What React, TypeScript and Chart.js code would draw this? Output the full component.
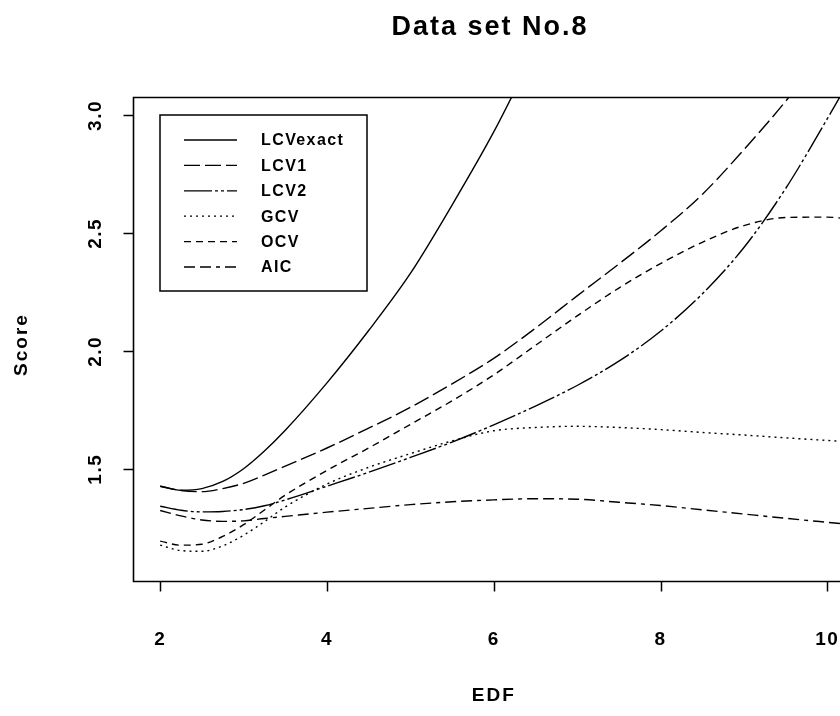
import React, { useEffect, useRef } from "react";
import { Chart, registerables } from "chart.js";

Chart.register(...registerables);

const chartTitle = "Data set No.8";
const xTitle = "EDF";
const yTitle = "Score";

const edf = [2.0, 2.25, 2.5, 2.75, 3.0, 3.25, 3.5, 4.0, 4.5, 5.0, 5.5, 6.0, 6.5, 7.0, 7.5, 8.0, 8.5, 9.0, 9.5, 10.0, 10.3];

const lcvExact = [1.428, 1.411, 1.418, 1.448, 1.502, 1.577, 1.665, 1.866, 2.088, 2.33, 2.62, 2.93, 3.28, null, null, null, null, null, null, null, null];
const lcv1 = [1.428, 1.41, 1.405, 1.418, 1.44, 1.475, 1.513, 1.59, 1.674, 1.762, 1.862, 1.97, 2.098, 2.235, 2.37, 2.51, 2.665, 2.855, 3.06, 3.29, 3.45];
const lcv2 = [1.343, 1.326, 1.319, 1.321, 1.329, 1.345, 1.37, 1.428, 1.487, 1.55, 1.615, 1.688, 1.768, 1.855, 1.958, 2.085, 2.243, 2.44, 2.69, 2.986, 3.17];
const gcv = [1.178, 1.155, 1.152, 1.175, 1.22, 1.278, 1.34, 1.437, 1.508, 1.566, 1.62, 1.663, 1.677, 1.682, 1.677, 1.668, 1.656, 1.645, 1.633, 1.622, 1.616];
const ocv = [1.195, 1.178, 1.182, 1.215, 1.265, 1.327, 1.39, 1.495, 1.59, 1.69, 1.79, 1.9, 2.025, 2.15, 2.268, 2.372, 2.462, 2.533, 2.567, 2.569, 2.558];
const aic = [1.325, 1.302, 1.285, 1.279, 1.281, 1.291, 1.3, 1.318, 1.334, 1.35, 1.362, 1.37, 1.375, 1.373, 1.36, 1.346, 1.328, 1.31, 1.292, 1.275, 1.265];

const seriesNames = ["LCVexact", "LCV1", "LCV2", "GCV", "OCV", "AIC"];
const seriesValues = [lcvExact, lcv1, lcv2, gcv, ocv, aic];
const seriesDashes: number[][] = [[], [16, 5], [28, 3, 3, 3, 3, 3], [2, 4], [7, 5], [11, 5, 11, 5, 4, 5]];

const xTicks = [2, 4, 6, 8, 10];
const xTickLabels = ["2", "4", "6", "8", "10"];
const yTicks = [1.5, 2.0, 2.5, 3.0];
const yTickLabels = ["1.5", "2.0", "2.5", "3.0"];

const FONT = "'Liberation Sans', Arial, Helvetica, sans-serif";

const decorPlugin = {
  id: "decor",
  afterDatasetsDraw(chart: any) {
    const ctx = chart.ctx as CanvasRenderingContext2D;
    const { left, right, top, bottom } = chart.chartArea;
    const xs = chart.scales.x;
    const ys = chart.scales.y;
    ctx.save();
    ctx.strokeStyle = "#000";
    ctx.fillStyle = "#000";
    ctx.lineWidth = 1.6;
    ctx.setLineDash([]);
    // plot box
    ctx.beginPath();
    ctx.moveTo(right, top);
    ctx.lineTo(left, top);
    ctx.lineTo(left, bottom);
    ctx.lineTo(right, bottom);
    ctx.lineTo(right, top);
    ctx.stroke();
    // x ticks
    ctx.lineWidth = 1.5;
    xTicks.forEach((v) => {
      const px = Math.round(xs.getPixelForValue(v)) + 0.5;
      ctx.beginPath();
      ctx.moveTo(px, bottom);
      ctx.lineTo(px, bottom + 10);
      ctx.stroke();
    });
    yTicks.forEach((v) => {
      const py = Math.round(ys.getPixelForValue(v)) + 0.5;
      ctx.beginPath();
      ctx.moveTo(left, py);
      ctx.lineTo(left - 10, py);
      ctx.stroke();
    });
    // tick labels
    (ctx as any).letterSpacing = "1.5px";
    ctx.font = `bold 19px ${FONT}`;
    ctx.textAlign = "center";
    ctx.textBaseline = "middle";
    xTicks.forEach((v, i) => {
      ctx.fillText(xTickLabels[i], xs.getPixelForValue(v), 640);
    });
    yTicks.forEach((v, i) => {
      ctx.save();
      ctx.translate(96, ys.getPixelForValue(v));
      ctx.rotate(-Math.PI / 2);
      ctx.fillText(yTickLabels[i], 0, 0);
      ctx.restore();
    });
    // axis titles
    (ctx as any).letterSpacing = "2px";
    ctx.font = `bold 19px ${FONT}`;
    ctx.fillText(xTitle, (left + right) / 2, 696);
    ctx.save();
    ctx.translate(22, (top + bottom) / 2 + 5);
    ctx.rotate(-Math.PI / 2);
    ctx.fillText(yTitle, 0, 0);
    ctx.restore();
    // main title
    (ctx as any).letterSpacing = "2px";
    ctx.font = `bold 27px ${FONT}`;
    ctx.fillText(chartTitle, 490, 28);

    // legend
    (ctx as any).letterSpacing = "0px";
    const lx0 = 160, ly0 = 115, lx1 = 367, ly1 = 291;
    ctx.lineWidth = 1.5;
    ctx.fillStyle = "#fff";
    ctx.fillRect(lx0, ly0, lx1 - lx0, ly1 - ly0);
    ctx.strokeRect(lx0, ly0, lx1 - lx0, ly1 - ly0);
    ctx.fillStyle = "#000";
    ctx.textAlign = "left";
    ctx.font = `bold 16px ${FONT}`;
    (ctx as any).letterSpacing = "1.4px";
    seriesNames.forEach((name, i) => {
      const y = 140 + i * 25.4;
      ctx.lineWidth = 1.3;
      ctx.setLineDash(seriesDashes[i]);
      ctx.beginPath();
      ctx.moveTo(184, y);
      ctx.lineTo(237, y);
      ctx.stroke();
      ctx.setLineDash([]);
      ctx.fillText(name, 261, y + 1);
    });
    ctx.restore();
  },
};

export default function App() {
  const ref = useRef<HTMLCanvasElement | null>(null);
  useEffect(() => {
    if (!ref.current) return;
    const datasets = seriesNames.map((name, i) => ({
      label: name,
      data: edf.map((x, j) => ({ x, y: seriesValues[i][j] })),
      borderColor: "#000",
      borderWidth: 1.4,
      borderDash: seriesDashes[i],
      pointRadius: 0,
      fill: false,
      cubicInterpolationMode: "monotone" as const,
      spanGaps: false,
    }));
    const chart = new Chart(ref.current, {
      type: "line",
      data: { datasets },
      options: {
        animation: false,
        responsive: false,
        devicePixelRatio: 1,
        layout: { padding: { left: 133.5, right: 880 - 854, top: 97.5, bottom: 716 - 581.5 } },
        scales: {
          x: { type: "linear", min: 1.68, max: 10.32, display: false },
          y: { type: "linear", min: 1.024, max: 3.076, display: false },
        },
        plugins: { legend: { display: false }, tooltip: { enabled: false }, title: { display: false } },
      },
      plugins: [decorPlugin],
    });
    return () => chart.destroy();
  }, []);
  return (
    <div style={{ position: "absolute", left: 0, top: 0, width: 840, height: 716, overflow: "hidden", background: "#fff" }}>
      <canvas ref={ref} width={880} height={716} style={{ display: "block" }} />
    </div>
  );
}
